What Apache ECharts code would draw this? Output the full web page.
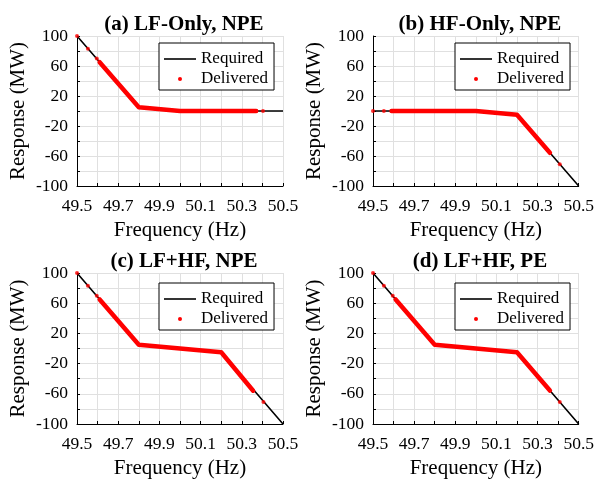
<!DOCTYPE html>
<html>
<head>
<meta charset="utf-8">
<script src="https://cdn.jsdelivr.net/npm/echarts@6/dist/echarts.min.js"></script>
<style>
  html, body { margin: 0; padding: 0; background: #fff; }
  #main { width: 597px; height: 480px; }
</style>
</head>
<body>
<div id="main"></div>
<script>
// tick labels (ticks every 0.1 Hz / 20 MW, labels on every other one)
var xTickLabels = ['49.5', '49.7', '49.9', '50.1', '50.3', '50.5'];
var yTickLabels = ['-100', '-60', '-20', '20', '60', '100'];

var panelTitles = ['(a) LF-Only, NPE', '(b) HF-Only, NPE', '(c) LF+HF, NPE', '(d) LF+HF, PE'];

// required droop curves [Hz, MW]
var requiredA = [[49.5, 100], [49.8, 5], [50.0, 0], [50.5, 0]];
var requiredB = [[49.5, 0], [50.0, 0], [50.2, -5], [50.5, -100]];
var requiredC = [[49.5, 100], [49.8, 5], [50.2, -5], [50.5, -100]];
var requiredD = [[49.5, 100], [49.8, 5], [50.2, -5], [50.5, -100]];

// delivered: dense band of samples (read as its outline) + isolated samples
var bandA = [[49.61, 65], [49.8, 5], [50.0, 0], [50.37, 0]];
var bandB = [[49.59, 0], [50.0, 0], [50.2, -5], [50.36, -55.7]];
var bandC = [[49.61, 65], [49.8, 5], [50.2, -5], [50.355, -55.9]];
var bandD = [[49.61, 65], [49.8, 5], [50.2, -5], [50.36, -55.7]];

var dotsA = [[49.5, 100], [49.553, 83], [49.596, 70], [50.403, 0]];
var dotsB = [[49.5, 0], [49.553, 0], [50.408, -71]];
var dotsC = [[49.5, 100], [49.553, 83], [49.596, 70], [50.405, -71]];
var dotsD = [[49.5, 100], [49.553, 83], [49.596, 70], [50.408, -71]];

var required = [requiredA, requiredB, requiredC, requiredD];
var bands = [bandA, bandB, bandC, bandD];
var dots = [dotsA, dotsB, dotsC, dotsD];

var font = 'Liberation Serif';
var panels = [
  { left: 77, top: 36, height: 150 },
  { left: 373, top: 36, height: 150 },
  { left: 77, top: 273, height: 151 },
  { left: 373, top: 273, height: 151 }
];

var option = {
  backgroundColor: '#fff',
  animation: false,
  title: [], grid: [], xAxis: [], yAxis: [], legend: [], series: []
};

panels.forEach(function (p, i) {
  option.title.push({
    text: panelTitles[i],
    left: p.left + 102,
    top: p.top - 27,
    textAlign: 'center',
    textStyle: { fontFamily: font, fontWeight: 'bold', fontSize: 21, color: '#000' }
  });
  option.grid.push({ left: p.left, top: p.top, width: 206, height: p.height });
  option.xAxis.push({
    type: 'value', gridIndex: i, min: 49.5, max: 50.5, interval: 0.1,
    name: 'Frequency (Hz)', nameLocation: 'middle', nameGap: 34,
    nameTextStyle: { fontFamily: font, fontSize: 21, color: '#000' },
    axisLine: { onZero: false, lineStyle: { color: '#000', width: 1 } },
    axisTick: { inside: true, length: 3, lineStyle: { color: '#000' } },
    axisLabel: {
      fontFamily: font, fontSize: 17.5, color: '#000', margin: 11, showMinLabel: true, showMaxLabel: true,
      formatter: function (v) { var s = v.toFixed(1); return xTickLabels.indexOf(s) >= 0 ? s : ''; }
    },
    splitLine: { show: true, lineStyle: { color: '#e0e0e0', width: 1 } }
  });
  option.yAxis.push({
    type: 'value', gridIndex: i, min: -100, max: 100, interval: 20,
    name: 'Response (MW)', nameLocation: 'middle', nameGap: 48,
    nameTextStyle: { fontFamily: font, fontSize: 21, color: '#000' },
    axisLine: { show: true, onZero: false, lineStyle: { color: '#000', width: 1 } },
    axisTick: { show: true, inside: true, length: 3, lineStyle: { color: '#000' } },
    axisLabel: {
      fontFamily: font, fontSize: 17.5, color: '#000', margin: 9,
      formatter: function (v) { var s = String(Math.round(v)); return yTickLabels.indexOf(s) >= 0 ? s : ''; }
    },
    splitLine: { show: true, lineStyle: { color: '#e0e0e0', width: 1 } }
  });
  option.legend.push({
    orient: 'vertical',
    left: p.left + 82,
    top: p.top + 7 + (i > 1 ? 3 : 0),
    padding: [7, 6, 2, 5],
    itemWidth: 32, itemHeight: 4, itemGap: 2, itemTextGap: 5,
    backgroundColor: '#fff', borderColor: '#000', borderWidth: 1, borderRadius: 0,
    selectedMode: false,
    textStyle: { fontFamily: font, fontSize: 17, color: '#000', lineHeight: 18 },
    data: [
      { name: 'Required', icon: 'path://M0,0L32,0L32,1.6L0,1.6Z', itemStyle: { color: '#000' } },
      { name: 'Delivered', icon: 'circle', itemStyle: { color: '#ff0000' } }
    ]
  });
  option.series.push({
    name: 'Required', type: 'line', xAxisIndex: i, yAxisIndex: i,
    data: required[i], showSymbol: false, symbol: 'none',
    lineStyle: { color: '#000', width: 1.6 }, z: 2
  });
  option.series.push({
    name: 'Delivered', type: 'line', xAxisIndex: i, yAxisIndex: i,
    data: bands[i], showSymbol: false, symbol: 'none',
    lineStyle: { color: '#ff0000', width: 4.5, cap: 'round', join: 'round' }, z: 3
  });
  option.series.push({
    name: 'Delivered', type: 'scatter', xAxisIndex: i, yAxisIndex: i,
    data: dots[i], symbolSize: 4, itemStyle: { color: '#ff0000' }, z: 4
  });
});

var chart = echarts.init(document.getElementById('main'), null, { renderer: 'canvas' });
chart.setOption(option);
</script>
</body>
</html>
